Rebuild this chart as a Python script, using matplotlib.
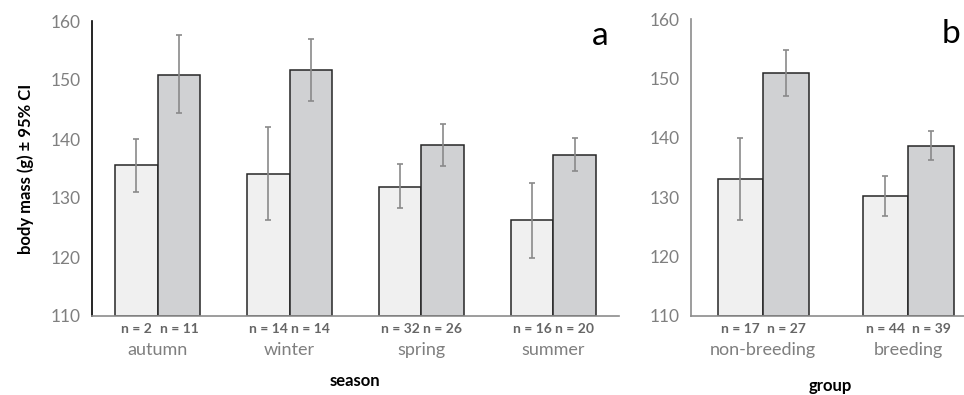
import matplotlib.pyplot as plt
import numpy as np

plt.rcParams['font.family'] = ['Lato', 'DejaVu Sans']

# panel a: season
seasons = ['autumn', 'winter', 'spring', 'summer']
light_a = [135.6, 134.1, 131.9, 126.2]
light_a_lo = [131.0, 126.2, 128.3, 119.9]
light_a_hi = [140.0, 142.0, 135.7, 132.5]
dark_a = [150.9, 151.7, 139.0, 137.3]
dark_a_lo = [144.4, 146.4, 135.5, 134.5]
dark_a_hi = [157.6, 157.0, 142.5, 140.1]
n_light_a = [2, 14, 32, 16]
n_dark_a = [11, 14, 26, 20]

# panel b: group
groups = ['non-breeding', 'breeding']
light_b = [133.1, 130.2]
light_b_lo = [126.1, 126.8]
light_b_hi = [140.0, 133.5]
dark_b = [150.9, 138.7]
dark_b_lo = [147.1, 136.3]
dark_b_hi = [154.7, 141.1]
n_light_b = [17, 44]
n_dark_b = [27, 39]

W, H = 964, 395
fig = plt.figure(figsize=(W / 100, H / 100), dpi=100)

light_col = '#f0f0f0'
dark_col = '#d0d1d3'
edge_col = '#262626'
err_col = '#8a8a8a'
tick_col = '#7f7f7f'


def draw(ax, cats, lv, llo, lhi, dv, dlo, dhi, nl, nd, bw, xlabel, xlab_y, letter, letter_xy, spine_col):
    x = np.arange(1, len(cats) + 1)
    lv, dv = np.array(lv), np.array(dv)
    ax.bar(x - bw / 2, lv - 110, bw, bottom=110, color=light_col, edgecolor=edge_col, linewidth=1.1, zorder=2)
    ax.bar(x + bw / 2, dv - 110, bw, bottom=110, color=dark_col, edgecolor=edge_col, linewidth=1.1, zorder=2)
    ax.errorbar(x - bw / 2, lv, yerr=[lv - np.array(llo), np.array(lhi) - lv], fmt='none',
                ecolor=err_col, elinewidth=1.2, capsize=2.5, capthick=1.2, zorder=3)
    ax.errorbar(x + bw / 2, dv, yerr=[dv - np.array(dlo), np.array(dhi) - dv], fmt='none',
                ecolor=err_col, elinewidth=1.2, capsize=2.5, capthick=1.2, zorder=3)
    ax.set_ylim(110, 160)
    ax.set_xlim(0.5, len(cats) + 0.5)
    ax.set_yticks([110, 120, 130, 140, 150, 160])
    ax.tick_params(axis='y', length=0, labelsize=12.5, labelcolor=tick_col, pad=8)
    ax.set_xticks([])
    for s in ['top', 'right']:
        ax.spines[s].set_visible(False)
    ax.spines['left'].set_color(spine_col)
    ax.spines['bottom'].set_color('#8c8c8c')
    ax.spines['left'].set_linewidth(1.2)
    ax.spines['bottom'].set_linewidth(1.2)
    tr = ax.get_xaxis_transform()
    for i in range(len(cats)):
        ax.text(x[i] - bw / 2, -0.045, 'n = %d' % nl[i], transform=tr, ha='center', va='center',
                fontsize=10, fontweight='bold', color='#666666')
        ax.text(x[i] + bw / 2, -0.045, 'n = %d' % nd[i], transform=tr, ha='center', va='center',
                fontsize=10, fontweight='bold', color='#666666')
        ax.text(x[i], -0.115, cats[i], transform=tr, ha='center', va='center',
                fontsize=13, color=tick_col)
    fig.text(xlab_y[0] / W, 1 - xlab_y[1] / H, xlabel, ha='center', va='center',
             fontsize=12, fontweight='bold', color='black')
    fig.text(letter_xy[0] / W, 1 - letter_xy[1] / H, letter, ha='center', va='center',
             fontsize=24, color='black')


ax_a = fig.add_axes([91.7 / W, 79 / H, (619.3 - 91.7) / W, 295 / H])
draw(ax_a, seasons, light_a, light_a_lo, light_a_hi, dark_a, dark_a_lo, dark_a_hi,
     n_light_a, n_dark_a, 0.324, 'season', (355, 381), 'a', (600, 36), 'black')
ax_a.set_ylabel('body mass (g) ± 95% CI', fontsize=12, fontweight='bold', labelpad=12)

ax_b = fig.add_axes([690.7 / W, 79 / H, 290 / W, 297 / H])
draw(ax_b, groups, light_b, light_b_lo, light_b_hi, dark_b, dark_b_lo, dark_b_hi,
     n_light_b, n_dark_b, 0.314, 'group', (830, 386), 'b', (951, 34), '#8c8c8c')

fig.savefig('out.png', dpi=100)
